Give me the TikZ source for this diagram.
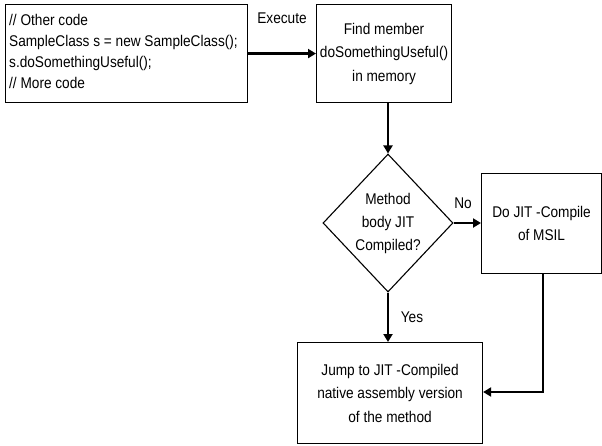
\documentclass[tikz,border=0pt]{standalone}
\usepackage{fontspec}
\setmainfont{Liberation Sans}[FakeStretch=0.88]
\usetikzlibrary{arrows.meta,shapes.geometric}
\begin{document}
\begin{tikzpicture}[x=1pt,y=-1pt,
  box/.style={draw,line width=1.1pt,inner sep=0pt,font=\fontsize{15.5}{23.5}\selectfont,align=center},
  flow/.style={line width=2.8pt,-{Triangle[length=8pt,width=9pt]}},
  lbl/.style={font=\fontsize{15.5}{18}\selectfont,inner sep=0pt}]
\useasboundingbox (0,0) rectangle (602,445);
\node[box,minimum width=242pt,minimum height=98pt,anchor=north west] (code) at (5,4) {};
\node[anchor=west,align=left,inner sep=0pt,font=\fontsize{15.5}{21}\selectfont] (codetext) at (9,51) {// Other code\\SampleClass s = new SampleClass();\\s.doSomethingUseful();\\// More code};
\node[box,minimum width=135pt,minimum height=98pt,anchor=north west] (find) at (316,4) {Find member\\doSomethingUseful()\\in memory};
\node[draw,diamond,line width=1.1pt,minimum width=130pt,minimum height=138pt,inner sep=0pt,font=\fontsize{15.5}{23}\selectfont,align=center] (dec) at (388,223) {Method\\body JIT\\Compiled?};
\node[box,minimum width=120pt,minimum height=100pt,anchor=north west] (jit) at (481,173) {Do JIT -Compile\\of MSIL};
\node[box,minimum width=185pt,minimum height=101pt,anchor=north west] (jump) at (297,342) {Jump to JIT -Compiled\\native assembly version\\of the method};
\coordinate (bend) at (543,392);
\draw[flow] (code.east) -- (find.west);
\draw[flow] (find.south -| dec.north) -- (dec.north);
\draw[flow] (dec.east) -- (jit.west |- dec.east);
\draw[flow] (dec.south) -- (jump.north -| dec.south);
\draw[flow] (jit.south -| bend) -- (bend) -- (jump.east |- bend);
\node[lbl] (exec) at (282,18) {Execute};
\node[lbl] (no) at (463,203) {No};
\node[lbl] (yes) at (412,317) {Yes};
\end{tikzpicture}
\end{document}
